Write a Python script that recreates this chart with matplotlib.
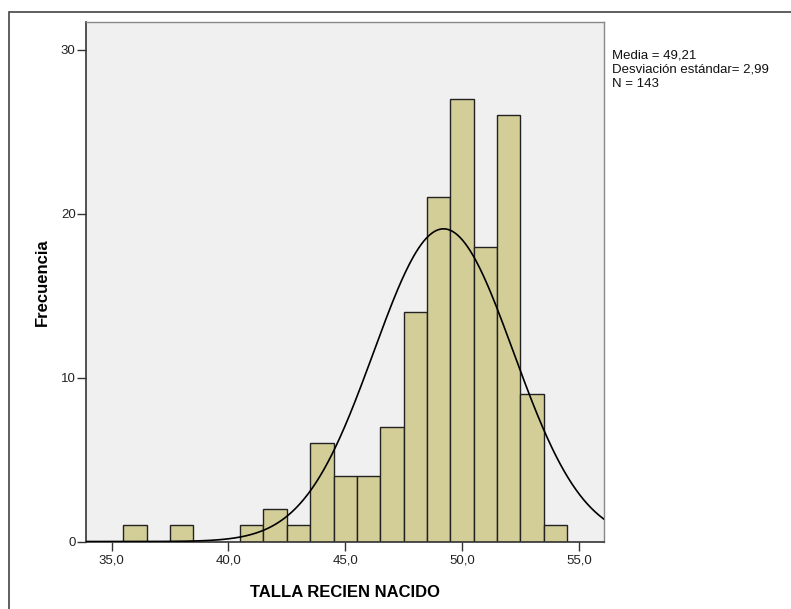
import numpy as np
import matplotlib.pyplot as plt
from matplotlib.patches import Rectangle

plt.rcParams['font.family'] = ['Liberation Sans', 'DejaVu Sans']

# centros de los intervalos (ancho 1) y frecuencias
centros = [36, 37, 38, 39, 40, 41, 42, 43, 44, 45, 46, 47, 48, 49, 50, 51, 52, 53, 54]
frecuencias = [1, 0, 1, 0, 0, 1, 2, 1, 6, 4, 4, 7, 14, 21, 27, 18, 26, 9, 1]
media = 49.21
desviacion = 2.99
n = 143
ancho = 1.0

xticks = [35, 40, 45, 50, 55]
yticks = [0, 10, 20, 30]

fig = plt.figure(figsize=(7.91, 6.09), dpi=100)
# marco exterior
fig.patches.append(Rectangle((9 / 791, -0.1), 1.2, (609 - 12) / 609 + 0.1, transform=fig.transFigure,
                             fill=False, edgecolor='#444444', linewidth=1.2))

ax = fig.add_axes([0.1087, 0.1108, 0.6549, 0.8531])
ax.set_facecolor('#F0F0F0')
nz = [i for i, f in enumerate(frecuencias) if f > 0]
ax.bar([centros[i] for i in nz], [frecuencias[i] for i in nz], width=ancho,
       color='#D3CE97', edgecolor='#222222', linewidth=1.0, zorder=2)

x = np.linspace(33.9, 56.1, 400)
y = n * ancho / (desviacion * np.sqrt(2 * np.pi)) * np.exp(-0.5 * ((x - media) / desviacion) ** 2)
ax.plot(x, y, color='black', linewidth=1.2, zorder=3)

ax.set_xlim(33.9, 56.08)
ax.set_ylim(0, 31.7)
ax.set_xticks(xticks)
ax.set_xticklabels([f'{v:.1f}'.replace('.', ',') for v in xticks], fontsize=9.5, color='#222222')
ax.set_yticks(yticks)
ax.set_yticklabels([str(v) for v in yticks], fontsize=9.5, color='#222222')
ax.tick_params(direction='out', length=6.5, width=1, color='#333333', pad=1)
ax.tick_params(axis='x', pad=3)

for s in ['left', 'bottom']:
    ax.spines[s].set_color('#333333')
    ax.spines[s].set_linewidth(1.2)
for s in ['top', 'right']:
    ax.spines[s].set_color('#888888')
    ax.spines[s].set_linewidth(1.0)

ax.set_xlabel('TALLA RECIEN NACIDO', fontsize=12, fontweight='bold', labelpad=13)
ax.set_ylabel('Frecuencia', fontsize=12, fontweight='bold', labelpad=8)

fig.text(612 / 791, 1 - 49 / 609, 'Media = 49,21\nDesviación estándar= 2,99\nN = 143',
         fontsize=9.5, va='top', ha='left', linespacing=1.3, color='#111111')

fig.savefig('out.png', dpi=100)
